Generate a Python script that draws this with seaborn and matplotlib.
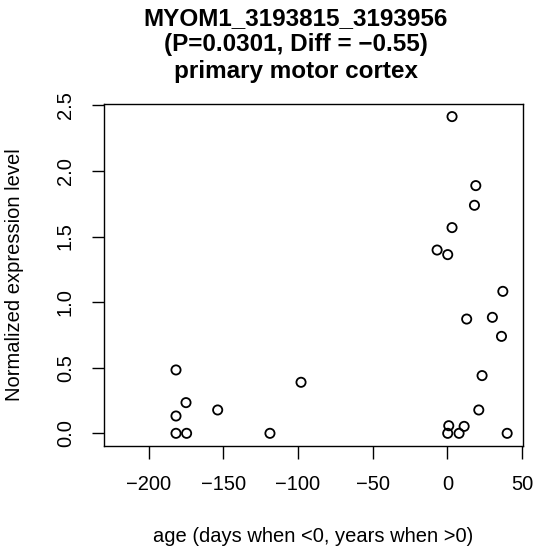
import numpy as np
import pandas as pd
import seaborn as sns
import matplotlib
matplotlib.use("Agg")
import matplotlib.pyplot as plt

# ── Data ───────────────────────────────────────────────────────────────────
age = [-181.7, -175.0, -181.7, -181.7, -174.6, -153.8, -118.8, -98.0,
       3.1, 19.0, 18.1, 3.1, -6.9, 0.2, 37.1, 12.9, 30.1, 36.2,
       23.2, 21.0, 0.9, 11.2, 0.2, 7.8, 40.0]
expression = [0.483, 0.234, 0.132, 0.0, 0.0, 0.178, 0.0, 0.389,
              2.414, 1.888, 1.738, 1.568, 1.397, 1.362, 1.082, 0.871, 0.884, 0.739,
              0.440, 0.178, 0.058, 0.053, 0.0, 0.0, 0.0]

x_ticks = [-200, -150, -100, -50, 0, 50]
y_ticks = [0.0, 0.5, 1.0, 1.5, 2.0, 2.5]
title_lines = ["MYOM1_3193815_3193956",
               "(P=0.0301, Diff = \u22120.55)",
               "primary motor cortex"]
x_label = "age (days when <0, years when >0)"
y_label = "Normalized expression level"

df = pd.DataFrame({"age": age, "expr": expression})

sns.set_style("white")
plt.rcParams['font.family'] = ['Liberation Sans', 'DejaVu Sans']
plt.rcParams['axes.unicode_minus'] = True
plt.rcParams['text.color'] = 'black'
plt.rcParams['axes.labelcolor'] = 'black'
plt.rcParams['xtick.color'] = 'black'
plt.rcParams['ytick.color'] = 'black'

fig = plt.figure(figsize=(5.36, 5.53), dpi=100)
ax = fig.add_axes([104 / 536, 1 - 446 / 553, (522.7 - 104) / 536, (446 - 104) / 553])

sns.scatterplot(data=df, x="age", y="expr", ax=ax, marker='o', s=44,
                facecolors='none', edgecolors='black', linewidths=1.3)

ax.set_xlim(-229.9, 50.4)
ax.set_ylim(-0.0966, 2.51)
ax.set_xticks(x_ticks)
ax.set_yticks(y_ticks)
ax.set_xticklabels([f"{t:d}".replace('-', '\u2212') for t in x_ticks])
ax.set_yticklabels([f"{t:.1f}" for t in y_ticks])

for s in ax.spines.values():
    s.set_visible(True)
    s.set_color('black')
    s.set_linewidth(1.0)

ax.tick_params(axis='both', direction='out', length=9, width=1.0,
               color='black', labelcolor='black', labelsize=14.5, pad=12,
               left=True, bottom=True)
plt.setp(ax.get_yticklabels(), rotation=90, va='center')

ax.set_xlabel(x_label, fontsize=14.5, color='black')
ax.set_ylabel(y_label, fontsize=14.5, color='black')
ax.xaxis.set_label_coords(0.5, (446 - 536.7) / 342)
ax.xaxis.label.set_va('center')
ax.yaxis.set_label_coords((15 - 104) / 418.7, 0.5)
ax.yaxis.label.set_va('center')

for i, line in enumerate(title_lines):
    fig.text(296 / 536, 1 - (18.3 + 26.7 * i) / 553, line, ha='center', va='center',
             fontsize=17.5, fontweight='bold', color='black')

fig.savefig("out.png", dpi=100)
